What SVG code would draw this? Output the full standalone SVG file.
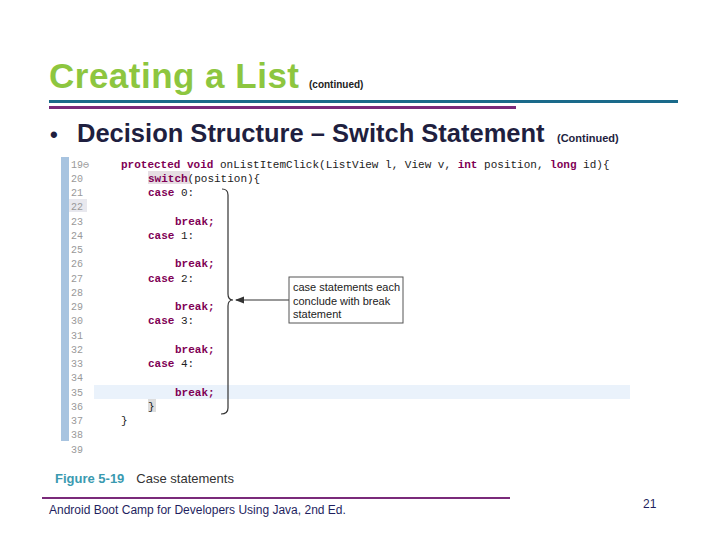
<svg xmlns="http://www.w3.org/2000/svg" width="720" height="540" viewBox="0 0 720 540">
<style>
.ln{font-family:"Liberation Mono",monospace;font-size:10px;fill:#999}
.cd{font-family:"Liberation Mono",monospace;font-size:11px;fill:#222}
.kw{font-family:"Liberation Mono",monospace;font-size:11px;fill:#7f0055;font-weight:bold}
.an{font-family:"Liberation Sans",Arial,sans-serif;font-size:11px;fill:#222}
</style>
<defs><marker id="ah" markerWidth="8" markerHeight="6" refX="7" refY="3" orient="auto"><path d="M0,0 L8,3 L0,6 Z" fill="#333"/></marker></defs>
<rect width="720" height="540" fill="#fff"/>
<g id="title">
<text x="49" y="88" font-family="Liberation Sans,Arial,sans-serif" font-size="35" font-weight="bold" fill="#8dc63f" textLength="250">Creating a List</text>
<text x="309" y="88" font-family="Liberation Sans,Arial,sans-serif" font-size="10" font-weight="bold" fill="#222">(continued)</text>
<rect x="49" y="100" width="629" height="3" fill="#1a6a8a"/>
<rect x="49" y="106" width="467" height="3" fill="#7a2a7a"/>
</g>
<g id="heading">
<text x="50" y="142" font-family="Liberation Sans,Arial,sans-serif" font-size="22" font-weight="bold" fill="#1f1f3f">•</text>
<text x="77" y="142" font-family="Liberation Sans,Arial,sans-serif" font-size="25.5" font-weight="bold" fill="#1f1f3f">Decision Structure – Switch Statement</text>
<text x="557" y="142" font-family="Liberation Sans,Arial,sans-serif" font-size="11" font-weight="bold" fill="#1f1f3f">(Continued)</text>
</g>
<g id="code">
<rect x="59" y="155" width="571" height="302" fill="#fff"/>
<rect x="61" y="157" width="8" height="284" fill="#a8c4e0"/>
<rect x="69" y="199" width="18" height="13" fill="#e8e8ee"/>
<rect x="94" y="385" width="536" height="14" fill="#eaf2fb"/>
<rect x="148" y="171" width="42" height="13" fill="#e6dde3"/>
<rect x="148" y="399" width="8" height="13" fill="#ddd"/>
<text class="ln" x="71" y="168">19⊖</text><text class="ln" x="71" y="182">20</text><text class="ln" x="71" y="196">21</text><text class="ln" x="71" y="210">22</text><text class="ln" x="71" y="225">23</text><text class="ln" x="71" y="239">24</text><text class="ln" x="71" y="253">25</text><text class="ln" x="71" y="267">26</text><text class="ln" x="71" y="282">27</text><text class="ln" x="71" y="296">28</text><text class="ln" x="71" y="310">29</text><text class="ln" x="71" y="324">30</text><text class="ln" x="71" y="339">31</text><text class="ln" x="71" y="353">32</text><text class="ln" x="71" y="367">33</text><text class="ln" x="71" y="381">34</text><text class="ln" x="71" y="396">35</text><text class="ln" x="71" y="410">36</text><text class="ln" x="71" y="424">37</text><text class="ln" x="71" y="438">38</text><text class="ln" x="71" y="453">39</text>
<text x="121" y="168"><tspan class="kw">protected void</tspan><tspan class="cd"> onListItemClick(ListView l, View v, </tspan><tspan class="kw">int</tspan><tspan class="cd"> position, </tspan><tspan class="kw">long</tspan><tspan class="cd"> id){</tspan></text>
<text x="148" y="182"><tspan class="kw">switch</tspan><tspan class="cd">(position){</tspan></text>
<text x="148" y="196"><tspan class="kw">case</tspan><tspan class="cd"> 0:</tspan></text>
<text class="kw" x="175" y="225">break;</text>
<text x="148" y="239"><tspan class="kw">case</tspan><tspan class="cd"> 1:</tspan></text>
<text class="kw" x="175" y="267">break;</text>
<text x="148" y="282"><tspan class="kw">case</tspan><tspan class="cd"> 2:</tspan></text>
<text class="kw" x="175" y="310">break;</text>
<text x="148" y="324"><tspan class="kw">case</tspan><tspan class="cd"> 3:</tspan></text>
<text class="kw" x="175" y="353">break;</text>
<text x="148" y="367"><tspan class="kw">case</tspan><tspan class="cd"> 4:</tspan></text>
<text class="kw" x="175" y="396">break;</text>
<text class="cd" x="148" y="410">}</text>
<text class="cd" x="121" y="424">}</text>
</g>
<g id="connectors">
<path d="M222,189 Q228,189 228,195 L228,294 Q228,300 233,300 Q228,300 228,306 L228,408 Q228,414 221,414" fill="none" stroke="#333" stroke-width="1.2"/>
<line x1="289" y1="300" x2="236" y2="300" stroke="#333" stroke-width="1.2" marker-end="url(#ah)"/>
</g>
<g id="callout">
<rect x="289" y="277" width="114" height="46" fill="#fff" stroke="#555"/>
<text class="an" x="293" y="291">case statements each</text>
<text class="an" x="293" y="305">conclude with break</text>
<text class="an" x="293" y="318">statement</text>
</g>
<g id="caption"><text x="55" y="483" font-family="Liberation Sans,Arial,sans-serif" font-size="13"><tspan fill="#3a9ab0" font-weight="bold">Figure 5-19</tspan><tspan fill="#333" dx="12">Case statements</tspan></text></g>
<g id="footer">
<rect x="42" y="497" width="468" height="2" fill="#7a2a7a"/>
<text x="49" y="514" font-family="Liberation Sans,Arial,sans-serif" font-size="12" fill="#1f1f5f">Android Boot Camp for Developers Using Java, 2nd Ed.</text>
<text x="643" y="508" font-family="Liberation Sans,Arial,sans-serif" font-size="12" fill="#1f1f5f">21</text>
</g>
</svg>
